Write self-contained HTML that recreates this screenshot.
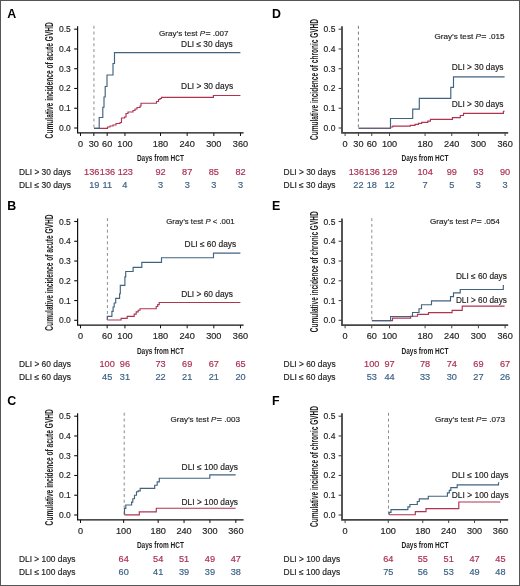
<!DOCTYPE html>
<html><head><meta charset="utf-8"><style>
html,body{margin:0;padding:0;background:#fff;}
svg{display:block;}
text{font-family:"Liberation Sans", sans-serif;}
</style></head><body>
<svg width="520" height="586" viewBox="0 0 520 586" style="will-change:transform">
<rect x="0" y="0" width="520" height="586" fill="#fff"/>
<text x="7.3" y="17.6" font-size="12.4" font-weight="bold" fill="#000">A</text>
<text transform="translate(53,138.4) rotate(-90)" x="0" y="0" font-size="10" font-weight="bold" textLength="116.3" lengthAdjust="spacingAndGlyphs" fill="#1e1e1e">Cumulative incidence of acute GVHD</text>
<line x1="74.2" y1="128" x2="77.6" y2="128" stroke="#111" stroke-width="1.1"/>
<text x="70.8" y="131" font-size="8.5" text-anchor="end" fill="#1e1e1e" stroke="#1e1e1e" stroke-width="0.16">0.0</text>
<line x1="74.2" y1="108.24" x2="77.6" y2="108.24" stroke="#111" stroke-width="1.1"/>
<text x="70.8" y="111.24" font-size="8.5" text-anchor="end" fill="#1e1e1e" stroke="#1e1e1e" stroke-width="0.16">0.1</text>
<line x1="74.2" y1="88.48" x2="77.6" y2="88.48" stroke="#111" stroke-width="1.1"/>
<text x="70.8" y="91.48" font-size="8.5" text-anchor="end" fill="#1e1e1e" stroke="#1e1e1e" stroke-width="0.16">0.2</text>
<line x1="74.2" y1="68.72" x2="77.6" y2="68.72" stroke="#111" stroke-width="1.1"/>
<text x="70.8" y="71.72" font-size="8.5" text-anchor="end" fill="#1e1e1e" stroke="#1e1e1e" stroke-width="0.16">0.3</text>
<line x1="74.2" y1="48.96" x2="77.6" y2="48.96" stroke="#111" stroke-width="1.1"/>
<text x="70.8" y="51.96" font-size="8.5" text-anchor="end" fill="#1e1e1e" stroke="#1e1e1e" stroke-width="0.16">0.4</text>
<line x1="74.2" y1="29.2" x2="77.6" y2="29.2" stroke="#111" stroke-width="1.1"/>
<text x="70.8" y="32.2" font-size="8.5" text-anchor="end" fill="#1e1e1e" stroke="#1e1e1e" stroke-width="0.16">0.5</text>
<path d="M77.6,26.2 V132.8 H243.6" fill="none" stroke="#111" stroke-width="1.2"/>
<line x1="80.5" y1="132.8" x2="80.5" y2="136" stroke="#111" stroke-width="1"/>
<text transform="translate(80.5,147) scale(1.08,1)" font-size="8.5" text-anchor="middle" fill="#1e1e1e" stroke="#1e1e1e" stroke-width="0.16">0</text>
<line x1="93.83" y1="132.8" x2="93.83" y2="136" stroke="#111" stroke-width="1"/>
<text transform="translate(93.83,147) scale(1.08,1)" font-size="8.5" text-anchor="middle" fill="#1e1e1e" stroke="#1e1e1e" stroke-width="0.16">30</text>
<line x1="107.16" y1="132.8" x2="107.16" y2="136" stroke="#111" stroke-width="1"/>
<text transform="translate(107.16,147) scale(1.08,1)" font-size="8.5" text-anchor="middle" fill="#1e1e1e" stroke="#1e1e1e" stroke-width="0.16">60</text>
<line x1="124.94" y1="132.8" x2="124.94" y2="136" stroke="#111" stroke-width="1"/>
<text transform="translate(124.94,147) scale(1.08,1)" font-size="8.5" text-anchor="middle" fill="#1e1e1e" stroke="#1e1e1e" stroke-width="0.16">100</text>
<line x1="160.49" y1="132.8" x2="160.49" y2="136" stroke="#111" stroke-width="1"/>
<text transform="translate(160.49,147) scale(1.08,1)" font-size="8.5" text-anchor="middle" fill="#1e1e1e" stroke="#1e1e1e" stroke-width="0.16">180</text>
<line x1="187.16" y1="132.8" x2="187.16" y2="136" stroke="#111" stroke-width="1"/>
<text transform="translate(187.16,147) scale(1.08,1)" font-size="8.5" text-anchor="middle" fill="#1e1e1e" stroke="#1e1e1e" stroke-width="0.16">240</text>
<line x1="213.82" y1="132.8" x2="213.82" y2="136" stroke="#111" stroke-width="1"/>
<text transform="translate(213.82,147) scale(1.08,1)" font-size="8.5" text-anchor="middle" fill="#1e1e1e" stroke="#1e1e1e" stroke-width="0.16">300</text>
<line x1="240.48" y1="132.8" x2="240.48" y2="136" stroke="#111" stroke-width="1"/>
<text transform="translate(240.48,147) scale(1.08,1)" font-size="8.5" text-anchor="middle" fill="#1e1e1e" stroke="#1e1e1e" stroke-width="0.16">360</text>
<text x="136.9" y="161.2" font-size="9.6" font-weight="bold" textLength="47.0" lengthAdjust="spacingAndGlyphs" fill="#1e1e1e">Days from HCT</text>
<line x1="93.9" y1="25.8" x2="93.9" y2="128.3" stroke="#b5b5b5" stroke-width="1.5" stroke-dasharray="3.0 2.8"/>
<path d="M94,128.3 H107.5 V127 H110 V126 H113 V125 H116 V123.5 H120 V122.5 H121.5 V118 H124.5 V117 H126 V113.5 H128 V112 H133 V110.5 H135 V109 H137 V107.5 H140 V106 H141 V103.2 H156.5 V101.5 H158.5 V99.5 H160 V98.5 H161.5 V97.3 H213.4 V95.5 H240.4" fill="none" stroke="#b03352" stroke-width="1.15"/>
<path d="M94,128.3 H99.2 V117.5 H102.8 V107.2 H104 V97 H105.2 V86.5 H107 V75 H113 V63.5 H114.5 V52.6 H240.4" fill="none" stroke="#41637f" stroke-width="1.15"/>
<text x="159.1" y="35.6" font-size="7.9" textLength="69.4" lengthAdjust="spacingAndGlyphs" fill="#1e1e1e" stroke="#1e1e1e" stroke-width="0.16">Gray’s test <tspan font-style="italic">P</tspan><tspan font-size="8.6" dx="0.3">=</tspan> .007</text>
<text x="181.1" y="46.7" font-size="8.3" textLength="51.5" lengthAdjust="spacingAndGlyphs" fill="#1e1e1e" stroke="#1e1e1e" stroke-width="0.16">DLI ≤ 30 days</text>
<text x="181.1" y="88.6" font-size="8.3" textLength="52" lengthAdjust="spacingAndGlyphs" fill="#1e1e1e" stroke="#1e1e1e" stroke-width="0.16">DLI &gt; 30 days</text>
<text x="19" y="174.9" font-size="8.3" textLength="52" lengthAdjust="spacingAndGlyphs" fill="#1e1e1e" stroke="#1e1e1e" stroke-width="0.16">DLI &gt; 30 days</text>
<text x="19" y="187.8" font-size="8.3" textLength="52" lengthAdjust="spacingAndGlyphs" fill="#1e1e1e" stroke="#1e1e1e" stroke-width="0.16">DLI ≤ 30 days</text>
<text transform="translate(91.75,174.6) scale(1.08,1)" font-size="8.5" text-anchor="middle" fill="#aa2e50" stroke="#aa2e50" stroke-width="0.16">136</text>
<text transform="translate(107.5,174.6) scale(1.08,1)" font-size="8.5" text-anchor="middle" fill="#aa2e50" stroke="#aa2e50" stroke-width="0.16">136</text>
<text transform="translate(125.3,174.6) scale(1.08,1)" font-size="8.5" text-anchor="middle" fill="#aa2e50" stroke="#aa2e50" stroke-width="0.16">123</text>
<text transform="translate(160.5,174.6) scale(1.08,1)" font-size="8.5" text-anchor="middle" fill="#aa2e50" stroke="#aa2e50" stroke-width="0.16">92</text>
<text transform="translate(187.2,174.6) scale(1.08,1)" font-size="8.5" text-anchor="middle" fill="#aa2e50" stroke="#aa2e50" stroke-width="0.16">87</text>
<text transform="translate(213.8,174.6) scale(1.08,1)" font-size="8.5" text-anchor="middle" fill="#aa2e50" stroke="#aa2e50" stroke-width="0.16">85</text>
<text transform="translate(240.5,174.6) scale(1.08,1)" font-size="8.5" text-anchor="middle" fill="#aa2e50" stroke="#aa2e50" stroke-width="0.16">82</text>
<text transform="translate(94.25,187.6) scale(1.08,1)" font-size="8.5" text-anchor="middle" fill="#3b6084" stroke="#3b6084" stroke-width="0.16">19</text>
<text transform="translate(107.25,187.6) scale(1.08,1)" font-size="8.5" text-anchor="middle" fill="#3b6084" stroke="#3b6084" stroke-width="0.16">11</text>
<text transform="translate(124.75,187.6) scale(1.08,1)" font-size="8.5" text-anchor="middle" fill="#3b6084" stroke="#3b6084" stroke-width="0.16">4</text>
<text transform="translate(160.5,187.6) scale(1.08,1)" font-size="8.5" text-anchor="middle" fill="#3b6084" stroke="#3b6084" stroke-width="0.16">3</text>
<text transform="translate(187.2,187.6) scale(1.08,1)" font-size="8.5" text-anchor="middle" fill="#3b6084" stroke="#3b6084" stroke-width="0.16">3</text>
<text transform="translate(213.8,187.6) scale(1.08,1)" font-size="8.5" text-anchor="middle" fill="#3b6084" stroke="#3b6084" stroke-width="0.16">3</text>
<text transform="translate(240.5,187.6) scale(1.08,1)" font-size="8.5" text-anchor="middle" fill="#3b6084" stroke="#3b6084" stroke-width="0.16">3</text>
<text x="7.3" y="209.9" font-size="12.4" font-weight="bold" fill="#000">B</text>
<text transform="translate(53,330.7) rotate(-90)" x="0" y="0" font-size="10" font-weight="bold" textLength="116.3" lengthAdjust="spacingAndGlyphs" fill="#1e1e1e">Cumulative incidence of acute GVHD</text>
<line x1="74.2" y1="320.3" x2="77.6" y2="320.3" stroke="#111" stroke-width="1.1"/>
<text x="70.8" y="323.3" font-size="8.5" text-anchor="end" fill="#1e1e1e" stroke="#1e1e1e" stroke-width="0.16">0.0</text>
<line x1="74.2" y1="300.54" x2="77.6" y2="300.54" stroke="#111" stroke-width="1.1"/>
<text x="70.8" y="303.54" font-size="8.5" text-anchor="end" fill="#1e1e1e" stroke="#1e1e1e" stroke-width="0.16">0.1</text>
<line x1="74.2" y1="280.78" x2="77.6" y2="280.78" stroke="#111" stroke-width="1.1"/>
<text x="70.8" y="283.78" font-size="8.5" text-anchor="end" fill="#1e1e1e" stroke="#1e1e1e" stroke-width="0.16">0.2</text>
<line x1="74.2" y1="261.02" x2="77.6" y2="261.02" stroke="#111" stroke-width="1.1"/>
<text x="70.8" y="264.02" font-size="8.5" text-anchor="end" fill="#1e1e1e" stroke="#1e1e1e" stroke-width="0.16">0.3</text>
<line x1="74.2" y1="241.26" x2="77.6" y2="241.26" stroke="#111" stroke-width="1.1"/>
<text x="70.8" y="244.26" font-size="8.5" text-anchor="end" fill="#1e1e1e" stroke="#1e1e1e" stroke-width="0.16">0.4</text>
<line x1="74.2" y1="221.5" x2="77.6" y2="221.5" stroke="#111" stroke-width="1.1"/>
<text x="70.8" y="224.5" font-size="8.5" text-anchor="end" fill="#1e1e1e" stroke="#1e1e1e" stroke-width="0.16">0.5</text>
<path d="M77.6,218.5 V325.1 H243.6" fill="none" stroke="#111" stroke-width="1.2"/>
<line x1="80.5" y1="325.1" x2="80.5" y2="328.3" stroke="#111" stroke-width="1"/>
<text transform="translate(80.5,339.3) scale(1.08,1)" font-size="8.5" text-anchor="middle" fill="#1e1e1e" stroke="#1e1e1e" stroke-width="0.16">0</text>
<line x1="107.16" y1="325.1" x2="107.16" y2="328.3" stroke="#111" stroke-width="1"/>
<text transform="translate(107.16,339.3) scale(1.08,1)" font-size="8.5" text-anchor="middle" fill="#1e1e1e" stroke="#1e1e1e" stroke-width="0.16">60</text>
<line x1="124.94" y1="325.1" x2="124.94" y2="328.3" stroke="#111" stroke-width="1"/>
<text transform="translate(124.94,339.3) scale(1.08,1)" font-size="8.5" text-anchor="middle" fill="#1e1e1e" stroke="#1e1e1e" stroke-width="0.16">100</text>
<line x1="160.49" y1="325.1" x2="160.49" y2="328.3" stroke="#111" stroke-width="1"/>
<text transform="translate(160.49,339.3) scale(1.08,1)" font-size="8.5" text-anchor="middle" fill="#1e1e1e" stroke="#1e1e1e" stroke-width="0.16">180</text>
<line x1="187.16" y1="325.1" x2="187.16" y2="328.3" stroke="#111" stroke-width="1"/>
<text transform="translate(187.16,339.3) scale(1.08,1)" font-size="8.5" text-anchor="middle" fill="#1e1e1e" stroke="#1e1e1e" stroke-width="0.16">240</text>
<line x1="213.82" y1="325.1" x2="213.82" y2="328.3" stroke="#111" stroke-width="1"/>
<text transform="translate(213.82,339.3) scale(1.08,1)" font-size="8.5" text-anchor="middle" fill="#1e1e1e" stroke="#1e1e1e" stroke-width="0.16">300</text>
<line x1="240.48" y1="325.1" x2="240.48" y2="328.3" stroke="#111" stroke-width="1"/>
<text transform="translate(240.48,339.3) scale(1.08,1)" font-size="8.5" text-anchor="middle" fill="#1e1e1e" stroke="#1e1e1e" stroke-width="0.16">360</text>
<text x="136.9" y="353.5" font-size="9.6" font-weight="bold" textLength="47.0" lengthAdjust="spacingAndGlyphs" fill="#1e1e1e">Days from HCT</text>
<line x1="107.4" y1="218.1" x2="107.4" y2="320.6" stroke="#8f8f8f" stroke-width="1.0" stroke-dasharray="3.0 2.8"/>
<path d="M107.3,320 H121.1 V318.3 H127.2 V316.3 H134.2 V314.1 H136.2 V311.9 H138.2 V310.2 H140 V308.7 H156.2 V306.5 H157.7 V304.6 H159.2 V302.5 H240.4" fill="none" stroke="#b03352" stroke-width="1.15"/>
<path d="M107.3,320 V316.3 H111.9 V311.4 H113.1 V307 H114.2 V303 H115.7 V298.3 H119.6 V293.7 H120.3 V285.3 H124.9 V276.8 H125.7 V271.5 H133.1 V267.3 H141.8 V262.4 H161.5 V257.7 H213.5 V253.1 H240.4" fill="none" stroke="#41637f" stroke-width="1.15"/>
<text x="166.3" y="224.3" font-size="7.9" textLength="68.3" lengthAdjust="spacingAndGlyphs" fill="#1e1e1e" stroke="#1e1e1e" stroke-width="0.16">Gray’s test <tspan font-style="italic">P</tspan> &lt; .001</text>
<text x="184.6" y="246.6" font-size="8.3" textLength="51.6" lengthAdjust="spacingAndGlyphs" fill="#1e1e1e" stroke="#1e1e1e" stroke-width="0.16">DLI ≤ 60 days</text>
<text x="181.2" y="296.6" font-size="8.3" textLength="51.8" lengthAdjust="spacingAndGlyphs" fill="#1e1e1e" stroke="#1e1e1e" stroke-width="0.16">DLI &gt; 60 days</text>
<text x="19" y="367.2" font-size="8.3" textLength="52" lengthAdjust="spacingAndGlyphs" fill="#1e1e1e" stroke="#1e1e1e" stroke-width="0.16">DLI &gt; 60 days</text>
<text x="19" y="380.1" font-size="8.3" textLength="52" lengthAdjust="spacingAndGlyphs" fill="#1e1e1e" stroke="#1e1e1e" stroke-width="0.16">DLI ≤ 60 days</text>
<text transform="translate(107.16,366.9) scale(1.08,1)" font-size="8.5" text-anchor="middle" fill="#aa2e50" stroke="#aa2e50" stroke-width="0.16">100</text>
<text transform="translate(124.94,366.9) scale(1.08,1)" font-size="8.5" text-anchor="middle" fill="#aa2e50" stroke="#aa2e50" stroke-width="0.16">96</text>
<text transform="translate(160.49,366.9) scale(1.08,1)" font-size="8.5" text-anchor="middle" fill="#aa2e50" stroke="#aa2e50" stroke-width="0.16">73</text>
<text transform="translate(187.16,366.9) scale(1.08,1)" font-size="8.5" text-anchor="middle" fill="#aa2e50" stroke="#aa2e50" stroke-width="0.16">69</text>
<text transform="translate(213.82,366.9) scale(1.08,1)" font-size="8.5" text-anchor="middle" fill="#aa2e50" stroke="#aa2e50" stroke-width="0.16">67</text>
<text transform="translate(240.48,366.9) scale(1.08,1)" font-size="8.5" text-anchor="middle" fill="#aa2e50" stroke="#aa2e50" stroke-width="0.16">65</text>
<text transform="translate(107.16,379.9) scale(1.08,1)" font-size="8.5" text-anchor="middle" fill="#3b6084" stroke="#3b6084" stroke-width="0.16">45</text>
<text transform="translate(124.94,379.9) scale(1.08,1)" font-size="8.5" text-anchor="middle" fill="#3b6084" stroke="#3b6084" stroke-width="0.16">31</text>
<text transform="translate(160.49,379.9) scale(1.08,1)" font-size="8.5" text-anchor="middle" fill="#3b6084" stroke="#3b6084" stroke-width="0.16">22</text>
<text transform="translate(187.16,379.9) scale(1.08,1)" font-size="8.5" text-anchor="middle" fill="#3b6084" stroke="#3b6084" stroke-width="0.16">21</text>
<text transform="translate(213.82,379.9) scale(1.08,1)" font-size="8.5" text-anchor="middle" fill="#3b6084" stroke="#3b6084" stroke-width="0.16">21</text>
<text transform="translate(240.48,379.9) scale(1.08,1)" font-size="8.5" text-anchor="middle" fill="#3b6084" stroke="#3b6084" stroke-width="0.16">20</text>
<text x="7.3" y="404.6" font-size="12.4" font-weight="bold" fill="#000">C</text>
<text transform="translate(53,525.4) rotate(-90)" x="0" y="0" font-size="10" font-weight="bold" textLength="116.3" lengthAdjust="spacingAndGlyphs" fill="#1e1e1e">Cumulative incidence of acute GVHD</text>
<line x1="74.2" y1="515" x2="77.6" y2="515" stroke="#111" stroke-width="1.1"/>
<text x="70.8" y="518" font-size="8.5" text-anchor="end" fill="#1e1e1e" stroke="#1e1e1e" stroke-width="0.16">0.0</text>
<line x1="74.2" y1="495.24" x2="77.6" y2="495.24" stroke="#111" stroke-width="1.1"/>
<text x="70.8" y="498.24" font-size="8.5" text-anchor="end" fill="#1e1e1e" stroke="#1e1e1e" stroke-width="0.16">0.1</text>
<line x1="74.2" y1="475.48" x2="77.6" y2="475.48" stroke="#111" stroke-width="1.1"/>
<text x="70.8" y="478.48" font-size="8.5" text-anchor="end" fill="#1e1e1e" stroke="#1e1e1e" stroke-width="0.16">0.2</text>
<line x1="74.2" y1="455.72" x2="77.6" y2="455.72" stroke="#111" stroke-width="1.1"/>
<text x="70.8" y="458.72" font-size="8.5" text-anchor="end" fill="#1e1e1e" stroke="#1e1e1e" stroke-width="0.16">0.3</text>
<line x1="74.2" y1="435.96" x2="77.6" y2="435.96" stroke="#111" stroke-width="1.1"/>
<text x="70.8" y="438.96" font-size="8.5" text-anchor="end" fill="#1e1e1e" stroke="#1e1e1e" stroke-width="0.16">0.4</text>
<line x1="74.2" y1="416.2" x2="77.6" y2="416.2" stroke="#111" stroke-width="1.1"/>
<text x="70.8" y="419.2" font-size="8.5" text-anchor="end" fill="#1e1e1e" stroke="#1e1e1e" stroke-width="0.16">0.5</text>
<path d="M77.6,413.2 V519.8 H243.6" fill="none" stroke="#111" stroke-width="1.2"/>
<line x1="80.5" y1="519.8" x2="80.5" y2="523" stroke="#111" stroke-width="1"/>
<text transform="translate(80.5,534) scale(1.08,1)" font-size="8.5" text-anchor="middle" fill="#1e1e1e" stroke="#1e1e1e" stroke-width="0.16">0</text>
<line x1="123.65" y1="519.8" x2="123.65" y2="523" stroke="#111" stroke-width="1"/>
<text transform="translate(123.65,534) scale(1.08,1)" font-size="8.5" text-anchor="middle" fill="#1e1e1e" stroke="#1e1e1e" stroke-width="0.16">100</text>
<line x1="158.17" y1="519.8" x2="158.17" y2="523" stroke="#111" stroke-width="1"/>
<text transform="translate(158.17,534) scale(1.08,1)" font-size="8.5" text-anchor="middle" fill="#1e1e1e" stroke="#1e1e1e" stroke-width="0.16">180</text>
<line x1="184.06" y1="519.8" x2="184.06" y2="523" stroke="#111" stroke-width="1"/>
<text transform="translate(184.06,534) scale(1.08,1)" font-size="8.5" text-anchor="middle" fill="#1e1e1e" stroke="#1e1e1e" stroke-width="0.16">240</text>
<line x1="209.95" y1="519.8" x2="209.95" y2="523" stroke="#111" stroke-width="1"/>
<text transform="translate(209.95,534) scale(1.08,1)" font-size="8.5" text-anchor="middle" fill="#1e1e1e" stroke="#1e1e1e" stroke-width="0.16">300</text>
<line x1="235.84" y1="519.8" x2="235.84" y2="523" stroke="#111" stroke-width="1"/>
<text transform="translate(235.84,534) scale(1.08,1)" font-size="8.5" text-anchor="middle" fill="#1e1e1e" stroke="#1e1e1e" stroke-width="0.16">360</text>
<text x="136.9" y="548.2" font-size="9.6" font-weight="bold" textLength="47.0" lengthAdjust="spacingAndGlyphs" fill="#1e1e1e">Days from HCT</text>
<line x1="124.3" y1="412.8" x2="124.3" y2="515.3" stroke="#b0b0b0" stroke-width="1.5" stroke-dasharray="3.0 2.8"/>
<path d="M124.5,514.8 H139.3 V511.9 H156.3 V508.2 H235.7" fill="none" stroke="#b03352" stroke-width="1.15"/>
<path d="M124.5,514.8 V508.5 H125.8 V505 H131.6 V502.1 H132.8 V498.7 H134.5 V495.2 H136.5 V491.7 H138.2 V490.9 H140.2 V488.3 H154.7 V485.2 H157.2 V481.9 H159.3 V478.2 H209.8 V474.8 H235.7" fill="none" stroke="#41637f" stroke-width="1.15"/>
<text x="170.5" y="422.2" font-size="7.9" textLength="69.4" lengthAdjust="spacingAndGlyphs" fill="#1e1e1e" stroke="#1e1e1e" stroke-width="0.16">Gray’s test <tspan font-style="italic">P</tspan><tspan font-size="8.6" dx="0.3">=</tspan> .003</text>
<text x="181.6" y="470.1" font-size="8.3" textLength="56.4" lengthAdjust="spacingAndGlyphs" fill="#1e1e1e" stroke="#1e1e1e" stroke-width="0.16">DLI ≤ 100 days</text>
<text x="181.6" y="504.8" font-size="8.3" textLength="56.4" lengthAdjust="spacingAndGlyphs" fill="#1e1e1e" stroke="#1e1e1e" stroke-width="0.16">DLI &gt; 100 days</text>
<text x="19" y="561.9" font-size="8.3" textLength="56.5" lengthAdjust="spacingAndGlyphs" fill="#1e1e1e" stroke="#1e1e1e" stroke-width="0.16">DLI &gt; 100 days</text>
<text x="19" y="574.8" font-size="8.3" textLength="56.5" lengthAdjust="spacingAndGlyphs" fill="#1e1e1e" stroke="#1e1e1e" stroke-width="0.16">DLI ≤ 100 days</text>
<text transform="translate(123.65,561.6) scale(1.08,1)" font-size="8.5" text-anchor="middle" fill="#aa2e50" stroke="#aa2e50" stroke-width="0.16">64</text>
<text transform="translate(158.17,561.6) scale(1.08,1)" font-size="8.5" text-anchor="middle" fill="#aa2e50" stroke="#aa2e50" stroke-width="0.16">54</text>
<text transform="translate(184.06,561.6) scale(1.08,1)" font-size="8.5" text-anchor="middle" fill="#aa2e50" stroke="#aa2e50" stroke-width="0.16">51</text>
<text transform="translate(209.95,561.6) scale(1.08,1)" font-size="8.5" text-anchor="middle" fill="#aa2e50" stroke="#aa2e50" stroke-width="0.16">49</text>
<text transform="translate(235.84,561.6) scale(1.08,1)" font-size="8.5" text-anchor="middle" fill="#aa2e50" stroke="#aa2e50" stroke-width="0.16">47</text>
<text transform="translate(123.65,574.6) scale(1.08,1)" font-size="8.5" text-anchor="middle" fill="#3b6084" stroke="#3b6084" stroke-width="0.16">60</text>
<text transform="translate(158.17,574.6) scale(1.08,1)" font-size="8.5" text-anchor="middle" fill="#3b6084" stroke="#3b6084" stroke-width="0.16">41</text>
<text transform="translate(184.06,574.6) scale(1.08,1)" font-size="8.5" text-anchor="middle" fill="#3b6084" stroke="#3b6084" stroke-width="0.16">39</text>
<text transform="translate(209.95,574.6) scale(1.08,1)" font-size="8.5" text-anchor="middle" fill="#3b6084" stroke="#3b6084" stroke-width="0.16">39</text>
<text transform="translate(235.84,574.6) scale(1.08,1)" font-size="8.5" text-anchor="middle" fill="#3b6084" stroke="#3b6084" stroke-width="0.16">38</text>
<text x="271.9" y="17.6" font-size="12.4" font-weight="bold" fill="#000">D</text>
<text transform="translate(317.6,140) rotate(-90)" x="0" y="0" font-size="10" font-weight="bold" textLength="121" lengthAdjust="spacingAndGlyphs" fill="#1e1e1e">Cumulative incidence of chronic GVHD</text>
<line x1="338.6" y1="128" x2="342" y2="128" stroke="#444" stroke-width="1.1"/>
<text x="335.4" y="131" font-size="8.5" text-anchor="end" fill="#1e1e1e" stroke="#1e1e1e" stroke-width="0.16">0.0</text>
<line x1="338.6" y1="108.24" x2="342" y2="108.24" stroke="#444" stroke-width="1.1"/>
<text x="335.4" y="111.24" font-size="8.5" text-anchor="end" fill="#1e1e1e" stroke="#1e1e1e" stroke-width="0.16">0.1</text>
<line x1="338.6" y1="88.48" x2="342" y2="88.48" stroke="#444" stroke-width="1.1"/>
<text x="335.4" y="91.48" font-size="8.5" text-anchor="end" fill="#1e1e1e" stroke="#1e1e1e" stroke-width="0.16">0.2</text>
<line x1="338.6" y1="68.72" x2="342" y2="68.72" stroke="#444" stroke-width="1.1"/>
<text x="335.4" y="71.72" font-size="8.5" text-anchor="end" fill="#1e1e1e" stroke="#1e1e1e" stroke-width="0.16">0.3</text>
<line x1="338.6" y1="48.96" x2="342" y2="48.96" stroke="#444" stroke-width="1.1"/>
<text x="335.4" y="51.96" font-size="8.5" text-anchor="end" fill="#1e1e1e" stroke="#1e1e1e" stroke-width="0.16">0.4</text>
<line x1="338.6" y1="29.2" x2="342" y2="29.2" stroke="#444" stroke-width="1.1"/>
<text x="335.4" y="32.2" font-size="8.5" text-anchor="end" fill="#1e1e1e" stroke="#1e1e1e" stroke-width="0.16">0.5</text>
<path d="M342,26.2 V132.8 H508.2" fill="none" stroke="#444" stroke-width="1.8"/>
<line x1="345.1" y1="132.8" x2="345.1" y2="136" stroke="#444" stroke-width="1"/>
<text transform="translate(345.1,147) scale(1.08,1)" font-size="8.5" text-anchor="middle" fill="#1e1e1e" stroke="#1e1e1e" stroke-width="0.16">0</text>
<line x1="358.43" y1="132.8" x2="358.43" y2="136" stroke="#444" stroke-width="1"/>
<text transform="translate(358.43,147) scale(1.08,1)" font-size="8.5" text-anchor="middle" fill="#1e1e1e" stroke="#1e1e1e" stroke-width="0.16">30</text>
<line x1="371.76" y1="132.8" x2="371.76" y2="136" stroke="#444" stroke-width="1"/>
<text transform="translate(371.76,147) scale(1.08,1)" font-size="8.5" text-anchor="middle" fill="#1e1e1e" stroke="#1e1e1e" stroke-width="0.16">60</text>
<line x1="389.54" y1="132.8" x2="389.54" y2="136" stroke="#444" stroke-width="1"/>
<text transform="translate(389.54,147) scale(1.08,1)" font-size="8.5" text-anchor="middle" fill="#1e1e1e" stroke="#1e1e1e" stroke-width="0.16">100</text>
<line x1="425.09" y1="132.8" x2="425.09" y2="136" stroke="#444" stroke-width="1"/>
<text transform="translate(425.09,147) scale(1.08,1)" font-size="8.5" text-anchor="middle" fill="#1e1e1e" stroke="#1e1e1e" stroke-width="0.16">180</text>
<line x1="451.76" y1="132.8" x2="451.76" y2="136" stroke="#444" stroke-width="1"/>
<text transform="translate(451.76,147) scale(1.08,1)" font-size="8.5" text-anchor="middle" fill="#1e1e1e" stroke="#1e1e1e" stroke-width="0.16">240</text>
<line x1="478.42" y1="132.8" x2="478.42" y2="136" stroke="#444" stroke-width="1"/>
<text transform="translate(478.42,147) scale(1.08,1)" font-size="8.5" text-anchor="middle" fill="#1e1e1e" stroke="#1e1e1e" stroke-width="0.16">300</text>
<line x1="505.08" y1="132.8" x2="505.08" y2="136" stroke="#444" stroke-width="1"/>
<text transform="translate(505.08,147) scale(1.08,1)" font-size="8.5" text-anchor="middle" fill="#1e1e1e" stroke="#1e1e1e" stroke-width="0.16">360</text>
<text x="401.5" y="161.2" font-size="9.6" font-weight="bold" textLength="47.0" lengthAdjust="spacingAndGlyphs" fill="#1e1e1e">Days from HCT</text>
<line x1="358.4" y1="25.8" x2="358.4" y2="128.3" stroke="#7a7a7a" stroke-width="1.0" stroke-dasharray="3.0 2.8"/>
<path d="M358.6,128.2 H390.5 V127 H392.8 V126.1 H410.3 V125.3 H415 V124.3 H418.4 V123.4 H421.7 V122.3 H427.8 V121.1 H430.4 V119.4 H452.4 V117.6 H460.3 V115.5 H463.5 V113.3 H503.4 V111.2 H504.6" fill="none" stroke="#b03352" stroke-width="1.15"/>
<path d="M358.6,128.2 H390.5 V118.5 H412.7 V109.1 H419.3 V98.4 H450.8 V87.3 H453.5 V76.9 H504.6" fill="none" stroke="#41637f" stroke-width="1.15"/>
<text x="434.5" y="39" font-size="7.9" textLength="70" lengthAdjust="spacingAndGlyphs" fill="#1e1e1e" stroke="#1e1e1e" stroke-width="0.16">Gray’s test <tspan font-style="italic">P</tspan><tspan font-size="8.6" dx="0.3">=</tspan> .015</text>
<text x="451.8" y="70.1" font-size="8.3" textLength="51.7" lengthAdjust="spacingAndGlyphs" fill="#1e1e1e" stroke="#1e1e1e" stroke-width="0.16">DLI &gt; 30 days</text>
<text x="451.8" y="106.8" font-size="8.3" textLength="51.7" lengthAdjust="spacingAndGlyphs" fill="#1e1e1e" stroke="#1e1e1e" stroke-width="0.16">DLI &gt; 30 days</text>
<text x="283.6" y="174.9" font-size="8.3" textLength="52" lengthAdjust="spacingAndGlyphs" fill="#1e1e1e" stroke="#1e1e1e" stroke-width="0.16">DLI &gt; 30 days</text>
<text x="283.6" y="187.8" font-size="8.3" textLength="52" lengthAdjust="spacingAndGlyphs" fill="#1e1e1e" stroke="#1e1e1e" stroke-width="0.16">DLI ≤ 30 days</text>
<text transform="translate(356.4,174.6) scale(1.08,1)" font-size="8.5" text-anchor="middle" fill="#aa2e50" stroke="#aa2e50" stroke-width="0.16">136</text>
<text transform="translate(372.2,174.6) scale(1.08,1)" font-size="8.5" text-anchor="middle" fill="#aa2e50" stroke="#aa2e50" stroke-width="0.16">136</text>
<text transform="translate(389.6,174.6) scale(1.08,1)" font-size="8.5" text-anchor="middle" fill="#aa2e50" stroke="#aa2e50" stroke-width="0.16">129</text>
<text transform="translate(425.09,174.6) scale(1.08,1)" font-size="8.5" text-anchor="middle" fill="#aa2e50" stroke="#aa2e50" stroke-width="0.16">104</text>
<text transform="translate(451.76,174.6) scale(1.08,1)" font-size="8.5" text-anchor="middle" fill="#aa2e50" stroke="#aa2e50" stroke-width="0.16">99</text>
<text transform="translate(478.42,174.6) scale(1.08,1)" font-size="8.5" text-anchor="middle" fill="#aa2e50" stroke="#aa2e50" stroke-width="0.16">93</text>
<text transform="translate(505.08,174.6) scale(1.08,1)" font-size="8.5" text-anchor="middle" fill="#aa2e50" stroke="#aa2e50" stroke-width="0.16">90</text>
<text transform="translate(358.43,187.6) scale(1.08,1)" font-size="8.5" text-anchor="middle" fill="#3b6084" stroke="#3b6084" stroke-width="0.16">22</text>
<text transform="translate(371.76,187.6) scale(1.08,1)" font-size="8.5" text-anchor="middle" fill="#3b6084" stroke="#3b6084" stroke-width="0.16">18</text>
<text transform="translate(389.54,187.6) scale(1.08,1)" font-size="8.5" text-anchor="middle" fill="#3b6084" stroke="#3b6084" stroke-width="0.16">12</text>
<text transform="translate(425.09,187.6) scale(1.08,1)" font-size="8.5" text-anchor="middle" fill="#3b6084" stroke="#3b6084" stroke-width="0.16">7</text>
<text transform="translate(451.76,187.6) scale(1.08,1)" font-size="8.5" text-anchor="middle" fill="#3b6084" stroke="#3b6084" stroke-width="0.16">5</text>
<text transform="translate(478.42,187.6) scale(1.08,1)" font-size="8.5" text-anchor="middle" fill="#3b6084" stroke="#3b6084" stroke-width="0.16">3</text>
<text transform="translate(505.08,187.6) scale(1.08,1)" font-size="8.5" text-anchor="middle" fill="#3b6084" stroke="#3b6084" stroke-width="0.16">3</text>
<text x="271.9" y="209.9" font-size="12.4" font-weight="bold" fill="#000">E</text>
<text transform="translate(317.6,332.3) rotate(-90)" x="0" y="0" font-size="10" font-weight="bold" textLength="121" lengthAdjust="spacingAndGlyphs" fill="#1e1e1e">Cumulative incidence of chronic GVHD</text>
<line x1="338.6" y1="320.3" x2="342" y2="320.3" stroke="#444" stroke-width="1.1"/>
<text x="335.4" y="323.3" font-size="8.5" text-anchor="end" fill="#1e1e1e" stroke="#1e1e1e" stroke-width="0.16">0.0</text>
<line x1="338.6" y1="300.54" x2="342" y2="300.54" stroke="#444" stroke-width="1.1"/>
<text x="335.4" y="303.54" font-size="8.5" text-anchor="end" fill="#1e1e1e" stroke="#1e1e1e" stroke-width="0.16">0.1</text>
<line x1="338.6" y1="280.78" x2="342" y2="280.78" stroke="#444" stroke-width="1.1"/>
<text x="335.4" y="283.78" font-size="8.5" text-anchor="end" fill="#1e1e1e" stroke="#1e1e1e" stroke-width="0.16">0.2</text>
<line x1="338.6" y1="261.02" x2="342" y2="261.02" stroke="#444" stroke-width="1.1"/>
<text x="335.4" y="264.02" font-size="8.5" text-anchor="end" fill="#1e1e1e" stroke="#1e1e1e" stroke-width="0.16">0.3</text>
<line x1="338.6" y1="241.26" x2="342" y2="241.26" stroke="#444" stroke-width="1.1"/>
<text x="335.4" y="244.26" font-size="8.5" text-anchor="end" fill="#1e1e1e" stroke="#1e1e1e" stroke-width="0.16">0.4</text>
<line x1="338.6" y1="221.5" x2="342" y2="221.5" stroke="#444" stroke-width="1.1"/>
<text x="335.4" y="224.5" font-size="8.5" text-anchor="end" fill="#1e1e1e" stroke="#1e1e1e" stroke-width="0.16">0.5</text>
<path d="M342,218.5 V325.1 H508.2" fill="none" stroke="#444" stroke-width="1.8"/>
<line x1="345.1" y1="325.1" x2="345.1" y2="328.3" stroke="#444" stroke-width="1"/>
<text transform="translate(345.1,339.3) scale(1.08,1)" font-size="8.5" text-anchor="middle" fill="#1e1e1e" stroke="#1e1e1e" stroke-width="0.16">0</text>
<line x1="371.76" y1="325.1" x2="371.76" y2="328.3" stroke="#444" stroke-width="1"/>
<text transform="translate(371.76,339.3) scale(1.08,1)" font-size="8.5" text-anchor="middle" fill="#1e1e1e" stroke="#1e1e1e" stroke-width="0.16">60</text>
<line x1="389.54" y1="325.1" x2="389.54" y2="328.3" stroke="#444" stroke-width="1"/>
<text transform="translate(389.54,339.3) scale(1.08,1)" font-size="8.5" text-anchor="middle" fill="#1e1e1e" stroke="#1e1e1e" stroke-width="0.16">100</text>
<line x1="425.09" y1="325.1" x2="425.09" y2="328.3" stroke="#444" stroke-width="1"/>
<text transform="translate(425.09,339.3) scale(1.08,1)" font-size="8.5" text-anchor="middle" fill="#1e1e1e" stroke="#1e1e1e" stroke-width="0.16">180</text>
<line x1="451.76" y1="325.1" x2="451.76" y2="328.3" stroke="#444" stroke-width="1"/>
<text transform="translate(451.76,339.3) scale(1.08,1)" font-size="8.5" text-anchor="middle" fill="#1e1e1e" stroke="#1e1e1e" stroke-width="0.16">240</text>
<line x1="478.42" y1="325.1" x2="478.42" y2="328.3" stroke="#444" stroke-width="1"/>
<text transform="translate(478.42,339.3) scale(1.08,1)" font-size="8.5" text-anchor="middle" fill="#1e1e1e" stroke="#1e1e1e" stroke-width="0.16">300</text>
<line x1="505.08" y1="325.1" x2="505.08" y2="328.3" stroke="#444" stroke-width="1"/>
<text transform="translate(505.08,339.3) scale(1.08,1)" font-size="8.5" text-anchor="middle" fill="#1e1e1e" stroke="#1e1e1e" stroke-width="0.16">360</text>
<text x="401.5" y="353.5" font-size="9.6" font-weight="bold" textLength="47.0" lengthAdjust="spacingAndGlyphs" fill="#1e1e1e">Days from HCT</text>
<line x1="371.8" y1="218.1" x2="371.8" y2="320.6" stroke="#8f8f8f" stroke-width="1.0" stroke-dasharray="3.0 2.8"/>
<path d="M371.9,320.6 H392.5 V318.1 H410.6 V316.25 H417.5 V314.4 H428.5 V312.6 H452.1 V310.4 H462.2 V306.1 H504.6" fill="none" stroke="#b03352" stroke-width="1.15"/>
<path d="M371.9,320.6 H390.6 V316.5 H412.5 V312.5 H419 V308.75 H421.5 V304.75 H431.5 V300.8 H450.5 V296.6 H453.5 V292.9 H460.2 V289.5 H503.3 V285.5 H504" fill="none" stroke="#41637f" stroke-width="1.15"/>
<text x="429.9" y="224.4" font-size="7.9" textLength="69.9" lengthAdjust="spacingAndGlyphs" fill="#1e1e1e" stroke="#1e1e1e" stroke-width="0.16">Gray’s test <tspan font-style="italic">P</tspan><tspan font-size="8.6" dx="0.3">=</tspan> .054</text>
<text x="455.9" y="279.2" font-size="8.3" textLength="51" lengthAdjust="spacingAndGlyphs" fill="#1e1e1e" stroke="#1e1e1e" stroke-width="0.16">DLI ≤ 60 days</text>
<text x="455.9" y="302.6" font-size="8.3" textLength="51" lengthAdjust="spacingAndGlyphs" fill="#1e1e1e" stroke="#1e1e1e" stroke-width="0.16">DLI &gt; 60 days</text>
<text x="283.6" y="367.2" font-size="8.3" textLength="52" lengthAdjust="spacingAndGlyphs" fill="#1e1e1e" stroke="#1e1e1e" stroke-width="0.16">DLI &gt; 60 days</text>
<text x="283.6" y="380.1" font-size="8.3" textLength="52" lengthAdjust="spacingAndGlyphs" fill="#1e1e1e" stroke="#1e1e1e" stroke-width="0.16">DLI ≤ 60 days</text>
<text transform="translate(371.76,366.9) scale(1.08,1)" font-size="8.5" text-anchor="middle" fill="#aa2e50" stroke="#aa2e50" stroke-width="0.16">100</text>
<text transform="translate(389.54,366.9) scale(1.08,1)" font-size="8.5" text-anchor="middle" fill="#aa2e50" stroke="#aa2e50" stroke-width="0.16">97</text>
<text transform="translate(425.09,366.9) scale(1.08,1)" font-size="8.5" text-anchor="middle" fill="#aa2e50" stroke="#aa2e50" stroke-width="0.16">78</text>
<text transform="translate(451.76,366.9) scale(1.08,1)" font-size="8.5" text-anchor="middle" fill="#aa2e50" stroke="#aa2e50" stroke-width="0.16">74</text>
<text transform="translate(478.42,366.9) scale(1.08,1)" font-size="8.5" text-anchor="middle" fill="#aa2e50" stroke="#aa2e50" stroke-width="0.16">69</text>
<text transform="translate(505.08,366.9) scale(1.08,1)" font-size="8.5" text-anchor="middle" fill="#aa2e50" stroke="#aa2e50" stroke-width="0.16">67</text>
<text transform="translate(371.76,379.9) scale(1.08,1)" font-size="8.5" text-anchor="middle" fill="#3b6084" stroke="#3b6084" stroke-width="0.16">53</text>
<text transform="translate(389.54,379.9) scale(1.08,1)" font-size="8.5" text-anchor="middle" fill="#3b6084" stroke="#3b6084" stroke-width="0.16">44</text>
<text transform="translate(425.09,379.9) scale(1.08,1)" font-size="8.5" text-anchor="middle" fill="#3b6084" stroke="#3b6084" stroke-width="0.16">33</text>
<text transform="translate(451.76,379.9) scale(1.08,1)" font-size="8.5" text-anchor="middle" fill="#3b6084" stroke="#3b6084" stroke-width="0.16">30</text>
<text transform="translate(478.42,379.9) scale(1.08,1)" font-size="8.5" text-anchor="middle" fill="#3b6084" stroke="#3b6084" stroke-width="0.16">27</text>
<text transform="translate(505.08,379.9) scale(1.08,1)" font-size="8.5" text-anchor="middle" fill="#3b6084" stroke="#3b6084" stroke-width="0.16">26</text>
<text x="271.9" y="404.6" font-size="12.4" font-weight="bold" fill="#000">F</text>
<text transform="translate(317.6,527) rotate(-90)" x="0" y="0" font-size="10" font-weight="bold" textLength="121" lengthAdjust="spacingAndGlyphs" fill="#1e1e1e">Cumulative incidence of chronic GVHD</text>
<line x1="338.6" y1="515" x2="342" y2="515" stroke="#444" stroke-width="1.1"/>
<text x="335.4" y="518" font-size="8.5" text-anchor="end" fill="#1e1e1e" stroke="#1e1e1e" stroke-width="0.16">0.0</text>
<line x1="338.6" y1="495.24" x2="342" y2="495.24" stroke="#444" stroke-width="1.1"/>
<text x="335.4" y="498.24" font-size="8.5" text-anchor="end" fill="#1e1e1e" stroke="#1e1e1e" stroke-width="0.16">0.1</text>
<line x1="338.6" y1="475.48" x2="342" y2="475.48" stroke="#444" stroke-width="1.1"/>
<text x="335.4" y="478.48" font-size="8.5" text-anchor="end" fill="#1e1e1e" stroke="#1e1e1e" stroke-width="0.16">0.2</text>
<line x1="338.6" y1="455.72" x2="342" y2="455.72" stroke="#444" stroke-width="1.1"/>
<text x="335.4" y="458.72" font-size="8.5" text-anchor="end" fill="#1e1e1e" stroke="#1e1e1e" stroke-width="0.16">0.3</text>
<line x1="338.6" y1="435.96" x2="342" y2="435.96" stroke="#444" stroke-width="1.1"/>
<text x="335.4" y="438.96" font-size="8.5" text-anchor="end" fill="#1e1e1e" stroke="#1e1e1e" stroke-width="0.16">0.4</text>
<line x1="338.6" y1="416.2" x2="342" y2="416.2" stroke="#444" stroke-width="1.1"/>
<text x="335.4" y="419.2" font-size="8.5" text-anchor="end" fill="#1e1e1e" stroke="#1e1e1e" stroke-width="0.16">0.5</text>
<path d="M342,413.2 V519.8 H508.2" fill="none" stroke="#444" stroke-width="1.8"/>
<line x1="345.1" y1="519.8" x2="345.1" y2="523" stroke="#444" stroke-width="1"/>
<text transform="translate(345.1,534) scale(1.08,1)" font-size="8.5" text-anchor="middle" fill="#1e1e1e" stroke="#1e1e1e" stroke-width="0.16">0</text>
<line x1="388.25" y1="519.8" x2="388.25" y2="523" stroke="#444" stroke-width="1"/>
<text transform="translate(388.25,534) scale(1.08,1)" font-size="8.5" text-anchor="middle" fill="#1e1e1e" stroke="#1e1e1e" stroke-width="0.16">100</text>
<line x1="422.77" y1="519.8" x2="422.77" y2="523" stroke="#444" stroke-width="1"/>
<text transform="translate(422.77,534) scale(1.08,1)" font-size="8.5" text-anchor="middle" fill="#1e1e1e" stroke="#1e1e1e" stroke-width="0.16">180</text>
<line x1="448.66" y1="519.8" x2="448.66" y2="523" stroke="#444" stroke-width="1"/>
<text transform="translate(448.66,534) scale(1.08,1)" font-size="8.5" text-anchor="middle" fill="#1e1e1e" stroke="#1e1e1e" stroke-width="0.16">240</text>
<line x1="474.55" y1="519.8" x2="474.55" y2="523" stroke="#444" stroke-width="1"/>
<text transform="translate(474.55,534) scale(1.08,1)" font-size="8.5" text-anchor="middle" fill="#1e1e1e" stroke="#1e1e1e" stroke-width="0.16">300</text>
<line x1="500.44" y1="519.8" x2="500.44" y2="523" stroke="#444" stroke-width="1"/>
<text transform="translate(500.44,534) scale(1.08,1)" font-size="8.5" text-anchor="middle" fill="#1e1e1e" stroke="#1e1e1e" stroke-width="0.16">360</text>
<text x="401.5" y="548.2" font-size="9.6" font-weight="bold" textLength="47.0" lengthAdjust="spacingAndGlyphs" fill="#1e1e1e">Days from HCT</text>
<line x1="388.5" y1="412.8" x2="388.5" y2="515.3" stroke="#8f8f8f" stroke-width="1.0" stroke-dasharray="3.0 2.8"/>
<path d="M389.2,514.7 H415.3 V511.6 H426 V508.6 H458.8 V502 H500.3" fill="none" stroke="#b03352" stroke-width="1.15"/>
<path d="M389.2,514.7 V512.3 H391 V509.6 H407.9 V506.9 H409.9 V504.5 H417.3 V501.5 H419.3 V498.8 H428.3 V496.2 H447.4 V492.8 H449.3 V490.3 H450.8 V487.6 H457.2 V484.9 H498.5 V482.9 H499.2" fill="none" stroke="#41637f" stroke-width="1.15"/>
<text x="435" y="422" font-size="7.9" textLength="70" lengthAdjust="spacingAndGlyphs" fill="#1e1e1e" stroke="#1e1e1e" stroke-width="0.16">Gray’s test <tspan font-style="italic">P</tspan><tspan font-size="8.6" dx="0.3">=</tspan> .073</text>
<text x="451.8" y="478.2" font-size="8.3" textLength="56.8" lengthAdjust="spacingAndGlyphs" fill="#1e1e1e" stroke="#1e1e1e" stroke-width="0.16">DLI ≤ 100 days</text>
<text x="451.8" y="498" font-size="8.3" textLength="56.8" lengthAdjust="spacingAndGlyphs" fill="#1e1e1e" stroke="#1e1e1e" stroke-width="0.16">DLI &gt; 100 days</text>
<text x="283.6" y="561.9" font-size="8.3" textLength="56.5" lengthAdjust="spacingAndGlyphs" fill="#1e1e1e" stroke="#1e1e1e" stroke-width="0.16">DLI &gt; 100 days</text>
<text x="283.6" y="574.8" font-size="8.3" textLength="56.5" lengthAdjust="spacingAndGlyphs" fill="#1e1e1e" stroke="#1e1e1e" stroke-width="0.16">DLI ≤ 100 days</text>
<text transform="translate(388.25,561.6) scale(1.08,1)" font-size="8.5" text-anchor="middle" fill="#aa2e50" stroke="#aa2e50" stroke-width="0.16">64</text>
<text transform="translate(422.77,561.6) scale(1.08,1)" font-size="8.5" text-anchor="middle" fill="#aa2e50" stroke="#aa2e50" stroke-width="0.16">55</text>
<text transform="translate(448.66,561.6) scale(1.08,1)" font-size="8.5" text-anchor="middle" fill="#aa2e50" stroke="#aa2e50" stroke-width="0.16">51</text>
<text transform="translate(474.55,561.6) scale(1.08,1)" font-size="8.5" text-anchor="middle" fill="#aa2e50" stroke="#aa2e50" stroke-width="0.16">47</text>
<text transform="translate(500.44,561.6) scale(1.08,1)" font-size="8.5" text-anchor="middle" fill="#aa2e50" stroke="#aa2e50" stroke-width="0.16">45</text>
<text transform="translate(388.25,574.6) scale(1.08,1)" font-size="8.5" text-anchor="middle" fill="#3b6084" stroke="#3b6084" stroke-width="0.16">75</text>
<text transform="translate(422.77,574.6) scale(1.08,1)" font-size="8.5" text-anchor="middle" fill="#3b6084" stroke="#3b6084" stroke-width="0.16">56</text>
<text transform="translate(448.66,574.6) scale(1.08,1)" font-size="8.5" text-anchor="middle" fill="#3b6084" stroke="#3b6084" stroke-width="0.16">53</text>
<text transform="translate(474.55,574.6) scale(1.08,1)" font-size="8.5" text-anchor="middle" fill="#3b6084" stroke="#3b6084" stroke-width="0.16">49</text>
<text transform="translate(500.44,574.6) scale(1.08,1)" font-size="8.5" text-anchor="middle" fill="#3b6084" stroke="#3b6084" stroke-width="0.16">48</text>
<rect x="0.5" y="0.5" width="519" height="585" fill="none" stroke="#555" stroke-width="1"/>
</svg>
</body></html>
